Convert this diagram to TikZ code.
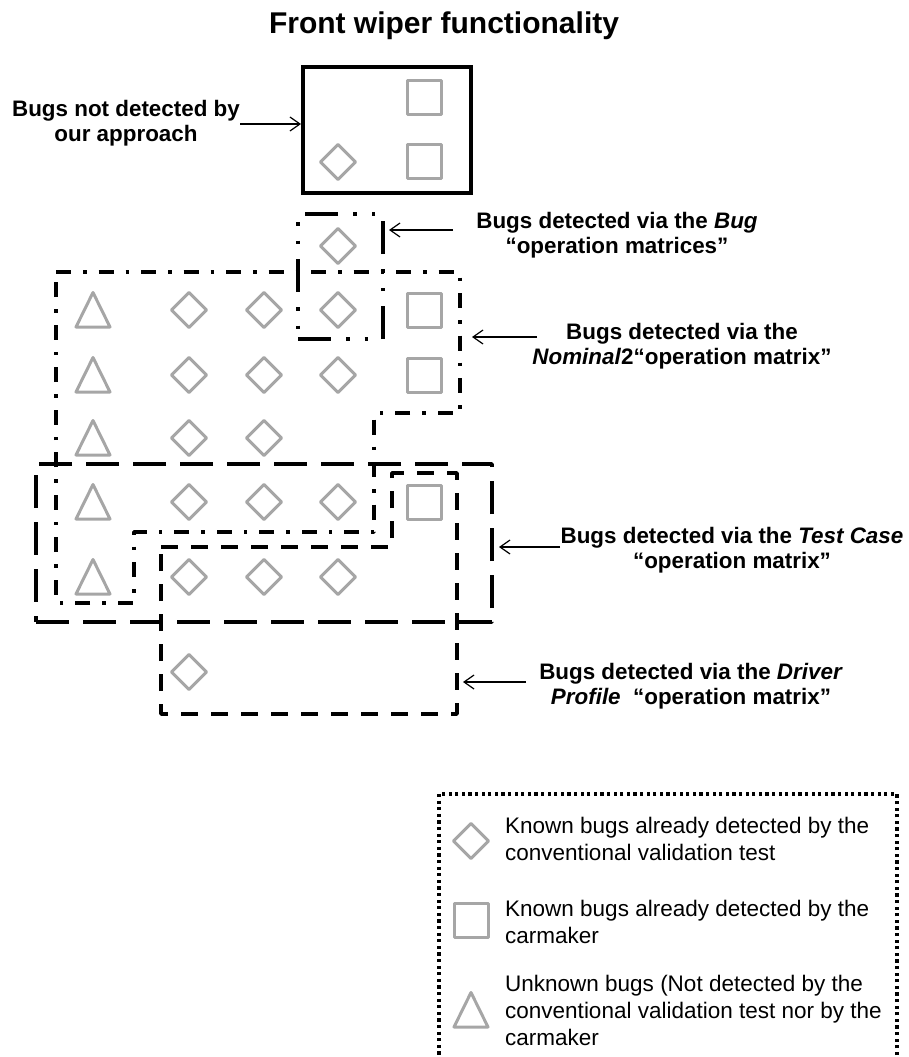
\documentclass[tikz,border=0pt]{standalone}
\usepackage{fontspec}
\setmainfont{Liberation Sans}
\usetikzlibrary{arrows.meta}
\definecolor{bugGray}{HTML}{A6A6A6}
\tikzset{
  bugshape/.style={draw=bugGray, line width=3pt, line join=round},
  dia/.pic={\draw[bugshape] (-17.5,0)--(0,-17.5)--(17.5,0)--(0,17.5)--cycle;},
  sqr/.pic={\draw[bugshape] (-17,-17) rectangle (17,17);},
  tri/.pic={\draw[bugshape] (0,-17.5)--(17,17)--(-17,17)--cycle;},
  solidbox/.style={draw=black, line width=4pt, inner sep=0pt},
  dashbig/.style={draw=black, line width=3.8pt, line join=round, dash pattern=on 33pt off 14pt},
  dashsmall/.style={draw=black, line width=3.8pt, line join=round, dash pattern=on 17pt off 13pt},
  dashdotline/.style={draw=black, line width=3.8pt, line join=round, dash pattern=on 15pt off 12pt on 3.5pt off 12pt},
  dashdotdotline/.style={draw=black, line width=3.8pt, line join=round, dash pattern=on 33pt off 15pt on 3.5pt off 15pt on 3.5pt off 15pt},
  dotbox/.style={draw=black, line width=3.2pt, dash pattern=on 3.2pt off 3.4pt},
  arr/.style={-{Straight Barb[length=10pt,width=14pt,line width=1.2pt]}, line width=1.2pt},
  lbl/.style={font=\bfseries\fontsize{22.4}{25.5}\selectfont, align=center, inner sep=0pt},
  legtext/.style={font=\fontsize{22.5}{27}\selectfont, align=left, inner sep=0pt, anchor=west},
  titlestyle/.style={font=\bfseries\fontsize{30}{34}\selectfont, inner sep=0pt}
}
\begin{document}
\begin{tikzpicture}[x=1pt,y=-1pt]
\useasboundingbox (0,0) rectangle (908,1057);

% title
\node[titlestyle] (title) at (444,26) {Front wiper functionality};

% boxes
\node[solidbox, minimum width=168pt, minimum height=126pt] (topbox) at (387,130) {};
\node[dashdotdotline, inner sep=0pt, minimum width=85pt, minimum height=125pt] (bugbox) at (340.5,276.5) {};
\draw[dashdotline] (56,272) -- (460,272) -- (460,413) -- (374,413) -- (374,532) -- (134,532) -- (134,603) -- (56,603) -- cycle;
\node[dashbig, inner sep=0pt, minimum width=456pt, minimum height=158pt] (testbox) at (264,543) {};
\draw[dashsmall] (161,547) -- (392,547) -- (392,473) -- (457,473) -- (457,714) -- (161,714) -- cycle;
\draw[dotbox] (439,794) rectangle (897,1075);

% bugs in top box
\pic at (424.5,97.5) {sqr};
\pic at (424.5,161) {sqr};
\pic at (338,162) {dia};
% bug box
\pic at (338,246) {dia};
% row 1
\pic at (93,310) {tri};
\pic at (189,310) {dia};
\pic at (264,310) {dia};
\pic at (338,310) {dia};
\pic at (424,310) {sqr};
% row 2
\pic at (93,375) {tri};
\pic at (189,375) {dia};
\pic at (264,375) {dia};
\pic at (338,375) {dia};
\pic at (424,375) {sqr};
% row 3
\pic at (93,438) {tri};
\pic at (189,438) {dia};
\pic at (264,438) {dia};
% row 4
\pic at (93,502) {tri};
\pic at (189,502) {dia};
\pic at (264,502) {dia};
\pic at (338,502) {dia};
\pic at (424,502) {sqr};
% row 5
\pic at (93,577) {tri};
\pic at (189,577) {dia};
\pic at (264,577) {dia};
\pic at (338,577) {dia};
% row 6
\pic at (189,672) {dia};

% labels
\node[lbl] (lnot) at (126,123) {Bugs not detected by\\our approach};
\node[lbl] (lbug) at (617,235) {Bugs detected via the \textit{Bug}\\“operation matrices”};
\node[lbl] (lnom) at (682,346) {Bugs detected via the\\\textit{Nominal}2“operation matrix”};
\node[lbl] (ltest) at (732,550) {Bugs detected via the \textit{Test Case}\\“operation matrix”};
\node[lbl] (ldrv) at (691,686) {Bugs detected via the \textit{Driver}\\\textit{Profile}\ \ “operation matrix”};

% arrow end points
\coordinate (a1s) at (240,124);
\coordinate (a1t) at (301,124);
\coordinate (a2s) at (453,230);
\coordinate (a2t) at (389,230);
\coordinate (a3s) at (537,337);
\coordinate (a3t) at (472,337);
\coordinate (a4s) at (560,547);
\coordinate (a4t) at (499,547);
\coordinate (a5s) at (526,682);
\coordinate (a5t) at (463,682);
\draw[arr] (a1s) -- (a1t);
\draw[arr] (a2s) -- (a2t);
\draw[arr] (a3s) -- (a3t);
\draw[arr] (a4s) -- (a4t);
\draw[arr] (a5s) -- (a5t);

% legend
\pic at (471,841) {dia};
\pic at (471,920) {sqr};
\pic at (471,1010) {tri};
\node[legtext] (leg1) at (505,838.5) {Known bugs already detected by the\\conventional validation test};
\node[legtext] (leg2) at (505,921.5) {Known bugs already detected by the\\carmaker};
\node[legtext] (leg3) at (505,1010) {Unknown bugs (Not detected by the\\conventional validation test nor by the\\carmaker};
\end{tikzpicture}
\end{document}
